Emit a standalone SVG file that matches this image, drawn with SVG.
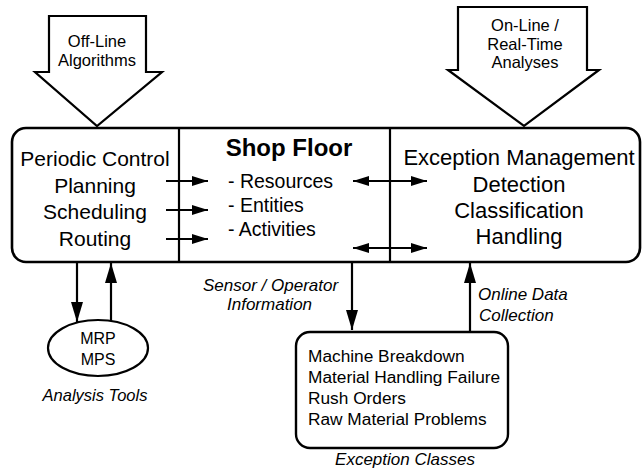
<svg xmlns="http://www.w3.org/2000/svg" width="643" height="468" viewBox="0 0 643 468">
<style>
  .ln { stroke: #000; stroke-width: 2.2; fill: none; }
  .box { stroke: #000; stroke-width: 2.6; fill: #fff; }
  .blk { stroke: #000; stroke-width: 2.2; fill: #fff; stroke-linejoin: miter; }
  text { font-family: "Liberation Sans", Arial, Helvetica, sans-serif; fill: #000; }
  .big { font-size: 21px; text-anchor: middle; }
  .big2 { font-size: 22px; text-anchor: middle; }
  .item { font-size: 19.5px; }
  .cls { font-size: 17.3px; }
  .lab { font-size: 17px; font-style: italic; }
  .arw { font-size: 16.5px; text-anchor: middle; }
</style>
<defs>
  <marker id="h" viewBox="0 0 16 10" refX="16" refY="5" markerWidth="16" markerHeight="10" markerUnits="userSpaceOnUse" orient="auto-start-reverse">
    <path d="M0,0 L16,5 L0,10 z" fill="#000"/>
  </marker>
  <marker id="v" viewBox="0 0 20 12" refX="20" refY="6" markerWidth="20" markerHeight="12" markerUnits="userSpaceOnUse" orient="auto-start-reverse">
    <path d="M0,0 L20,6 L0,12 z" fill="#000"/>
  </marker>
</defs>

<g id="offline-arrow">
  <polygon class="blk" points="49,16 146,16 146,72 162,72 97,126 35,72 49,72"/>
  <text class="arw" x="97" y="47">Off-Line</text>
  <text class="arw" x="97" y="66">Algorithms</text>
</g>

<g id="online-arrow">
  <polygon class="blk" points="458,7 587,7 587,70 599,70 524,126 448,70 458,70"/>
  <text class="arw" x="525" y="31">On-Line /</text>
  <text class="arw" x="525" y="49.5">Real-Time</text>
  <text class="arw" x="525" y="68">Analyses</text>
</g>

<g id="main-box">
  <rect class="box" x="12" y="128" width="628" height="134" rx="14" ry="14"/>
  <line class="ln" x1="179" y1="128" x2="179" y2="262"/>
  <line class="ln" x1="390" y1="128" x2="390" y2="262"/>
</g>

<g id="periodic-control">
  <text class="big" x="95" y="166">Periodic Control</text>
  <text class="big" x="95" y="192.5">Planning</text>
  <text class="big" x="95" y="219">Scheduling</text>
  <text class="big" x="95" y="245.5">Routing</text>
</g>

<g id="shop-floor">
  <text x="289" y="156" style="font-size:24px;font-weight:bold;text-anchor:middle">Shop Floor</text>
  <text class="item" x="228" y="188">- Resources</text>
  <text class="item" x="228" y="212">- Entities</text>
  <text class="item" x="228" y="236">- Activities</text>
</g>

<g id="exception-management">
  <text class="big2" x="519" y="165">Exception Management</text>
  <text class="big2" x="519" y="192">Detection</text>
  <text class="big2" x="519" y="218">Classification</text>
  <text class="big2" x="519" y="244">Handling</text>
</g>

<g id="analysis-tools">
  <ellipse class="box" cx="98" cy="348" rx="50" ry="28" style="stroke-width:2.2"/>
  <text x="98" y="344" style="font-size:16px;text-anchor:middle">MRP</text>
  <text x="98" y="365" style="font-size:16px;text-anchor:middle">MPS</text>
  <text x="95" y="401" style="font-size:16.5px;font-style:italic;text-anchor:middle">Analysis Tools</text>
</g>

<g id="exception-classes">
  <rect class="box" x="296" y="332" width="212" height="116" rx="14" ry="14" style="stroke-width:2.4"/>
  <text class="cls" x="308" y="362">Machine Breakdown</text>
  <text class="cls" x="308" y="383">Material Handling Failure</text>
  <text class="cls" x="308" y="404">Rush Orders</text>
  <text class="cls" x="308" y="425">Raw Material Problems</text>
  <text x="405" y="465" style="font-size:17px;font-style:italic;text-anchor:middle">Exception Classes</text>
</g>

<g id="connectors">
  <line class="ln" x1="166" y1="181" x2="208" y2="181" marker-end="url(#h)"/>
  <line class="ln" x1="166" y1="210" x2="208" y2="210" marker-end="url(#h)"/>
  <line class="ln" x1="166" y1="239" x2="208" y2="239" marker-end="url(#h)"/>
  <line class="ln" x1="353" y1="181" x2="427" y2="181" marker-start="url(#h)" marker-end="url(#h)"/>
  <line class="ln" x1="353" y1="248" x2="427" y2="248" marker-start="url(#h)" marker-end="url(#h)"/>
  <line class="ln" x1="77" y1="262" x2="77" y2="322" marker-end="url(#v)"/>
  <line class="ln" x1="111" y1="321" x2="111" y2="263" marker-end="url(#v)"/>
  <line class="ln" x1="352" y1="262" x2="352" y2="330" marker-end="url(#v)"/>
  <line class="ln" x1="470" y1="332" x2="470" y2="263" marker-end="url(#v)"/>
  <text class="lab" x="203" y="291">Sensor / Operator</text>
  <text class="lab" x="227" y="310">Information</text>
  <text class="lab" x="478" y="300">Online Data</text>
  <text class="lab" x="479" y="321">Collection</text>
</g>
</svg>
